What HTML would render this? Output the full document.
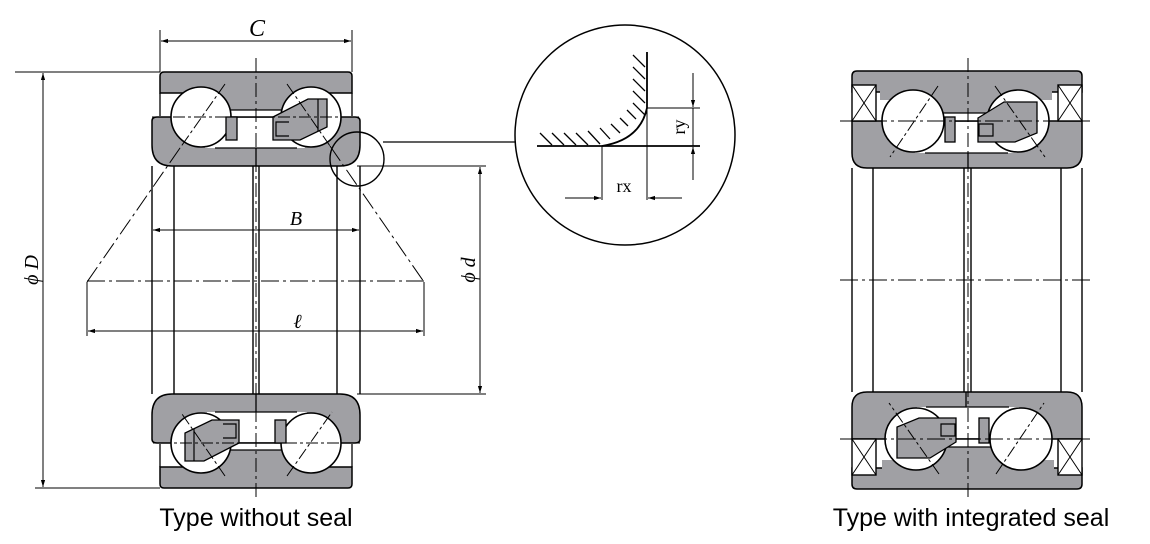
<!DOCTYPE html>
<html><head><meta charset="utf-8"><style>
html,body{margin:0;padding:0;background:#fff;}
svg{display:block;}
text{font-family:"Liberation Serif",serif;}
</style></head><body>
<svg width="1150" height="544" viewBox="0 0 1150 544" xmlns="http://www.w3.org/2000/svg">
<defs>
<marker id="ar" viewBox="0 0 10 10" refX="10" refY="5" markerWidth="7" markerHeight="7" orient="auto-start-reverse"><path d="M0,2 L10,5 L0,8 Z" fill="#000"/></marker>
<g id="LH">
  <path d="M160,76 Q160,72 164,72 H348 Q352,72 352,76 V93 H160 Z" fill="#a0a0a4" stroke="#000" stroke-width="1.5"/>
  <rect x="200" y="92" width="111" height="18" fill="#a0a0a4"/>
  <line x1="160" y1="93" x2="160" y2="116" stroke="#000" stroke-width="1.3"/>
  <line x1="352" y1="93" x2="352" y2="116" stroke="#000" stroke-width="1.3"/>
  <line x1="230" y1="110" x2="282" y2="110" stroke="#000" stroke-width="1.3"/>
  <path d="M152,121 Q152,117 157,117 H355 Q360,117 360,121 V145 Q360,166 340,166 H172 Q152,166 152,145 Z" fill="#a0a0a4" stroke="#000" stroke-width="1.5"/>
  <rect x="205" y="118" width="100" height="30" fill="#fff"/>
  <line x1="215" y1="148" x2="297" y2="148" stroke="#000" stroke-width="1.3"/>
  <line x1="256" y1="148" x2="256" y2="166" stroke="#000" stroke-width="1.3"/>
  <circle cx="201" cy="117" r="30" fill="#fff" stroke="#000" stroke-width="1.6"/>
  <circle cx="311" cy="117" r="30" fill="#fff" stroke="#000" stroke-width="1.6"/>
  <rect x="226" y="117" width="11" height="23" fill="#a0a0a4" stroke="#000" stroke-width="1.3"/>
  <polygon points="273,117 308,99 327,99 327,127 300,140 273,140" fill="#a0a0a4" stroke="#000" stroke-width="1.3"/>
  <path d="M289,122 H276 V136 H289" fill="#a0a0a4" stroke="#000" stroke-width="1.2"/>
  <line x1="318" y1="99" x2="318" y2="131" stroke="#000" stroke-width="1.2"/>
  <line x1="152" y1="117" x2="360" y2="117" stroke="#000" stroke-width="1" stroke-dasharray="12,3,3,3"/>
  <line x1="225" y1="84" x2="180" y2="148" stroke="#000" stroke-width="1" stroke-dasharray="12,3,3,3"/>
  <line x1="287" y1="84" x2="330" y2="146" stroke="#000" stroke-width="1" stroke-dasharray="12,3,3,3"/>
</g>
<g id="RH">
  <path d="M852,76 Q852,71 857,71 H1077 Q1082,71 1082,76 V92 H852 Z" fill="#a0a0a4" stroke="#000" stroke-width="1.5"/>
  <rect x="880" y="91" width="172" height="9" fill="#a0a0a4"/>
  <rect x="913" y="99" width="105" height="14" fill="#a0a0a4"/>
  <line x1="913" y1="113" x2="1018" y2="113" stroke="#000" stroke-width="1.3"/>
  <path d="M852,121 H1082 V153 Q1082,168 1067,168 H867 Q852,168 852,153 Z" fill="#a0a0a4" stroke="#000" stroke-width="1.5"/>
  <rect x="915" y="122" width="102" height="31" fill="#fff"/>
  <line x1="925" y1="153" x2="1008" y2="153" stroke="#000" stroke-width="1.3"/>
  <line x1="968" y1="153" x2="968" y2="168" stroke="#000" stroke-width="1.3"/>
  <rect x="852" y="85" width="24" height="36" fill="#fff" stroke="#000" stroke-width="1.4"/>
  <path d="M852,85 L876,121 M876,85 L852,121" stroke="#000" stroke-width="1"/>
  <rect x="1058" y="85" width="24" height="36" fill="#fff" stroke="#000" stroke-width="1.4"/>
  <path d="M1058,85 L1082,121 M1082,85 L1058,121" stroke="#000" stroke-width="1"/>
  <circle cx="913" cy="121" r="31" fill="#fff" stroke="#000" stroke-width="1.6"/>
  <circle cx="1018" cy="121" r="31" fill="#fff" stroke="#000" stroke-width="1.6"/>
  <rect x="945" y="117" width="10" height="25" fill="#a0a0a4" stroke="#000" stroke-width="1.3"/>
  <polygon points="978,118 1004,102 1037,102 1037,133 1015,142 978,142" fill="#a0a0a4" stroke="#000" stroke-width="1.3"/>
  <path d="M993,124 H979 V136 H993 Z" fill="#a0a0a4" stroke="#000" stroke-width="1.2"/>
  <line x1="938" y1="86" x2="890" y2="157" stroke="#000" stroke-width="1" stroke-dasharray="12,3,3,3"/>
  <line x1="995" y1="86" x2="1045" y2="157" stroke="#000" stroke-width="1" stroke-dasharray="12,3,3,3"/>
</g>
</defs>

<use href="#LH"/>
<use href="#LH" transform="rotate(180 256 280)"/>
<g stroke="#000" stroke-width="1.4" fill="none">
  <line x1="152" y1="166" x2="152" y2="394"/>
  <line x1="360" y1="166" x2="360" y2="394"/>
  <line x1="174" y1="166" x2="174" y2="394"/>
  <line x1="337" y1="166" x2="337" y2="394"/>
  <line x1="253" y1="166" x2="253" y2="394"/>
  <line x1="259" y1="166" x2="259" y2="394"/>
</g>
<line x1="256" y1="58" x2="256" y2="500" stroke="#000" stroke-width="1" stroke-dasharray="14,4,3,4"/>
<line x1="180" y1="148" x2="87" y2="282" stroke="#000" stroke-width="1" stroke-dasharray="18,4,3,4"/>
<line x1="330" y1="146" x2="424" y2="282" stroke="#000" stroke-width="1" stroke-dasharray="18,4,3,4"/>
<line x1="87" y1="281" x2="424" y2="281" stroke="#000" stroke-width="1" stroke-dasharray="18,4,3,4"/>
<g stroke="#000" stroke-width="1" fill="none">
  <line x1="160" y1="30" x2="160" y2="72"/>
  <line x1="352" y1="30" x2="352" y2="72"/>
  <line x1="161" y1="41" x2="351" y2="41" marker-start="url(#ar)" marker-end="url(#ar)"/>
  <line x1="15" y1="72" x2="160" y2="72"/>
  <line x1="35" y1="488" x2="160" y2="488"/>
  <line x1="43" y1="73" x2="43" y2="487" marker-start="url(#ar)" marker-end="url(#ar)"/>
  <line x1="153" y1="230" x2="359" y2="230" marker-start="url(#ar)" marker-end="url(#ar)"/>
  <line x1="87" y1="282" x2="87" y2="336"/>
  <line x1="424" y1="282" x2="424" y2="336"/>
  <line x1="88" y1="331" x2="423" y2="331" marker-start="url(#ar)" marker-end="url(#ar)"/>
  <line x1="357" y1="166" x2="486" y2="166"/>
  <line x1="357" y1="394" x2="486" y2="394"/>
  <line x1="480" y1="167" x2="480" y2="393" marker-start="url(#ar)" marker-end="url(#ar)"/>
  <circle cx="357" cy="159" r="27" stroke-width="1.4"/>
  <line x1="383" y1="142" x2="516" y2="142" stroke-width="1.3"/>
  <circle cx="625" cy="135" r="110" stroke-width="1.5"/>
</g>
<text x="257" y="36" font-size="24" font-style="italic" text-anchor="middle">C</text>
<text x="296" y="225" font-size="20" font-style="italic" text-anchor="middle">B</text>
<text x="298" y="328" font-size="20" font-style="italic" font-weight="bold" text-anchor="middle">ℓ</text>
<text transform="translate(38,270) rotate(-90)" font-size="20" font-style="italic" text-anchor="middle">ϕ D</text>
<text transform="translate(475,270) rotate(-90)" font-size="20" font-style="italic" text-anchor="middle">ϕ d</text>

<g stroke="#000" fill="none">
  <line x1="537" y1="146" x2="700" y2="146" stroke-width="1.8"/>
  <path d="M647,52 V108 Q640,140 602,146" stroke-width="1.8"/>
  <g stroke-width="1.3">
    <path d="M540,133 l12,12 M552,133 l12,12 M564,133 l12,12 M576,133 l12,12 M588,131 l12,13 M600,128 l10,11 M611,124 l9,9 M620,118 l8,8 M627,110 l9,9 M633,103 l12,12 M633,91 l12,12 M633,79 l12,12 M633,67 l12,12 M633,55 l12,12"/>
  </g>
  <line x1="647" y1="108" x2="700" y2="108" stroke-width="1"/>
  <line x1="693" y1="73" x2="693" y2="107" stroke-width="1" marker-end="url(#ar)"/>
  <line x1="693" y1="180" x2="693" y2="147" stroke-width="1" marker-end="url(#ar)"/>
  <line x1="693" y1="108" x2="693" y2="146" stroke-width="1"/>
  <line x1="602" y1="146" x2="602" y2="200" stroke-width="1"/>
  <line x1="647" y1="108" x2="647" y2="200" stroke-width="1"/>
  <line x1="565" y1="198" x2="601" y2="198" stroke-width="1" marker-end="url(#ar)"/>
  <line x1="682" y1="198" x2="648" y2="198" stroke-width="1" marker-end="url(#ar)"/>
</g>
<text x="624" y="192" font-size="18" text-anchor="middle">rx</text>
<text transform="translate(685,127) rotate(-90)" font-size="18" text-anchor="middle">ry</text>

<use href="#RH"/>
<use href="#RH" transform="rotate(180 967 280)"/>
<g stroke="#000" stroke-width="1.4">
  <line x1="852" y1="168" x2="852" y2="392"/>
  <line x1="1082" y1="168" x2="1082" y2="392"/>
  <line x1="873" y1="168" x2="873" y2="392"/>
  <line x1="1061" y1="168" x2="1061" y2="392"/>
  <line x1="964" y1="168" x2="964" y2="392"/>
  <line x1="971" y1="168" x2="971" y2="392"/>
</g>
<line x1="968" y1="58" x2="968" y2="500" stroke="#000" stroke-width="1" stroke-dasharray="14,4,3,4"/>
<line x1="840" y1="121" x2="1092" y2="121" stroke="#000" stroke-width="1" stroke-dasharray="18,4,3,4"/>
<line x1="840" y1="439" x2="1092" y2="439" stroke="#000" stroke-width="1" stroke-dasharray="18,4,3,4"/>
<line x1="840" y1="280" x2="1092" y2="280" stroke="#000" stroke-width="1" stroke-dasharray="18,4,3,4"/>

<text x="256" y="526" font-size="25" text-anchor="middle" style="font-family:'Liberation Sans',sans-serif">Type without seal</text>
<text x="971" y="526" font-size="25" text-anchor="middle" style="font-family:'Liberation Sans',sans-serif">Type with integrated seal</text>
</svg>
</body></html>
